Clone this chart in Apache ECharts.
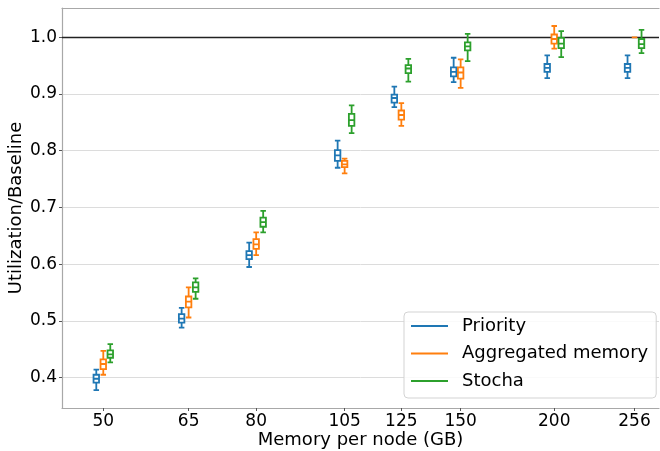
<!DOCTYPE html>
<html>
<head>
<meta charset="utf-8">
<script src="https://cdn.jsdelivr.net/npm/echarts@6/dist/echarts.min.js"></script>
<style>
  html, body { margin: 0; padding: 0; background: #fff; }
  #chart { width: 660px; height: 451px; }
</style>
</head>
<body>
<div id="chart"></div>
<script>
// memory per node (GB), plotted on a log x axis
const memoryGB = [50, 65, 80, 105, 125, 150, 200, 256];

// box stats per memory size: [min, Q1, median, Q3, max]
const priority = [
  [0.378, 0.391, 0.398, 0.405, 0.414],
  [0.488, 0.497, 0.504, 0.512, 0.523],
  [0.595, 0.609, 0.616, 0.623, 0.638],
  [0.770, 0.782, 0.792, 0.801, 0.818],
  [0.877, 0.885, 0.893, 0.899, 0.913],
  [0.921, 0.931, 0.939, 0.947, 0.964],
  [0.928, 0.939, 0.946, 0.953, 0.968],
  [0.928, 0.939, 0.946, 0.953, 0.968]
];
const aggregated = [
  [0.405, 0.415, 0.424, 0.432, 0.447],
  [0.506, 0.524, 0.534, 0.543, 0.559],
  [0.616, 0.627, 0.635, 0.644, 0.656],
  [0.760, 0.771, 0.776, 0.782, 0.786],
  [0.844, 0.855, 0.863, 0.871, 0.884],
  [0.911, 0.927, 0.938, 0.947, 0.961],
  [0.980, 0.989, 0.997, 1.005, 1.020],
  [1.000, 1.000, 1.000, 1.000, 1.000]
];
const stocha = [
  [0.427, 0.435, 0.441, 0.448, 0.459],
  [0.539, 0.551, 0.559, 0.568, 0.575],
  [0.656, 0.666, 0.674, 0.682, 0.694],
  [0.831, 0.844, 0.854, 0.865, 0.880],
  [0.922, 0.937, 0.945, 0.951, 0.962],
  [0.958, 0.977, 0.984, 0.991, 1.006],
  [0.965, 0.981, 0.989, 0.999, 1.011],
  [0.972, 0.981, 0.988, 0.997, 1.013]
];

const seriesNames = ["Priority", "Aggregated memory", "Stocha"];
const colors = ["#1f77b4", "#ff7f0e", "#2ca02c"];
const baseline = 1.0;

const font = "DejaVu Sans";
const spine = "#a8a8a8";

// x range of the plot area (log axis), and a dodge of ~7px for side boxes
const xMin = 44.04, xMax = 276.0;
const dodge = Math.exp(7 / 325.3);

const toBoxData = (stats) => stats.map((s, i) => [memoryGB[i], ...s]);

const chart = echarts.init(document.getElementById("chart"));

const hiddenX = (shift) => ({
  type: "log",
  show: false,
  min: xMin * shift,
  max: xMax * shift
});

const boxSeries = (idx, data, xAxisIndex, extra) => Object.assign({
  name: seriesNames[idx],
  type: "boxplot",
  xAxisIndex: xAxisIndex,
  data: toBoxData(data),
  boxWidth: [5.5, 5.5],
  itemStyle: { color: "#fff", borderColor: colors[idx], borderWidth: 1.8 },
  emphasis: { disabled: true }
}, extra || {});

chart.setOption({
  animation: false,
  grid: { left: 62, right: 1, top: 8, bottom: 43, outerBoundsMode: "none", containLabel: false },
  legend: {
    orient: "vertical",
    left: 404,
    top: 312,
    padding: [4, 8, 7, 7],
    itemGap: 7.5,
    itemWidth: 37,
    itemHeight: 2,
    icon: "rect",
    backgroundColor: "rgba(255,255,255,0.85)",
    borderColor: "#d3d3d3",
    borderWidth: 1,
    borderRadius: 4,
    textStyle: { fontFamily: font, fontSize: 18, color: "#000", lineHeight: 20, padding: [0, 0, 0, 9] },
    data: seriesNames.map((n, i) => ({ name: n, itemStyle: { color: colors[i], borderWidth: 0 } }))
  },
  xAxis: [
    {
      type: "log",
      min: xMin,
      max: xMax,
      name: "Memory per node (GB)",
      nameLocation: "middle",
      nameGap: 23,
      nameMoveOverlap: false,
      nameTextStyle: { fontFamily: font, fontSize: 18, color: "#000" },
      axisLine: { lineStyle: { color: spine, width: 1.2 } },
      axisTick: { show: true, length: 3, lineStyle: { color: "#555" }, customValues: memoryGB },
      axisLabel: {
        customValues: memoryGB,
        formatter: (v) => String(Math.round(v)),
        fontFamily: font, fontSize: 17, color: "#000", margin: 5
      },
      splitLine: { show: false },
      minorTick: { show: false }
    },
    hiddenX(dodge),
    hiddenX(1 / dodge),
    {
      type: "value",
      position: "top",
      axisLine: { show: true, onZero: false, lineStyle: { color: spine, width: 1.2 } },
      axisTick: { show: false },
      axisLabel: { show: false },
      splitLine: { show: false }
    }
  ],
  yAxis: {
    type: "value",
    min: 0.3464,
    max: 1.0517,
    splitNumber: 7,
    name: "Utilization/Baseline",
    nameLocation: "middle",
    nameGap: 37,
    nameMoveOverlap: false,
    nameTextStyle: { fontFamily: font, fontSize: 18, color: "#000" },
    axisLine: { show: true, lineStyle: { color: spine, width: 1.2 } },
    axisTick: { show: true, length: 3, lineStyle: { color: "#555" } },
    axisLabel: {
      fontFamily: font, fontSize: 17, color: "#000", margin: 5,
      showMinLabel: false, showMaxLabel: false,
      formatter: (v) => v.toFixed(1)
    },
    splitLine: { lineStyle: { color: "#dcdcdc", width: 1 } }
  },
  series: [
    boxSeries(0, priority, 1, {
      markLine: {
        silent: true,
        symbol: "none",
        z: 1,
        label: { show: false },
        lineStyle: { color: "#222", width: 1.3, type: "solid" },
        data: [{ yAxis: baseline }]
      }
    }),
    boxSeries(1, aggregated, 0),
    boxSeries(2, stocha, 2)
  ]
});
</script>
</body>
</html>
